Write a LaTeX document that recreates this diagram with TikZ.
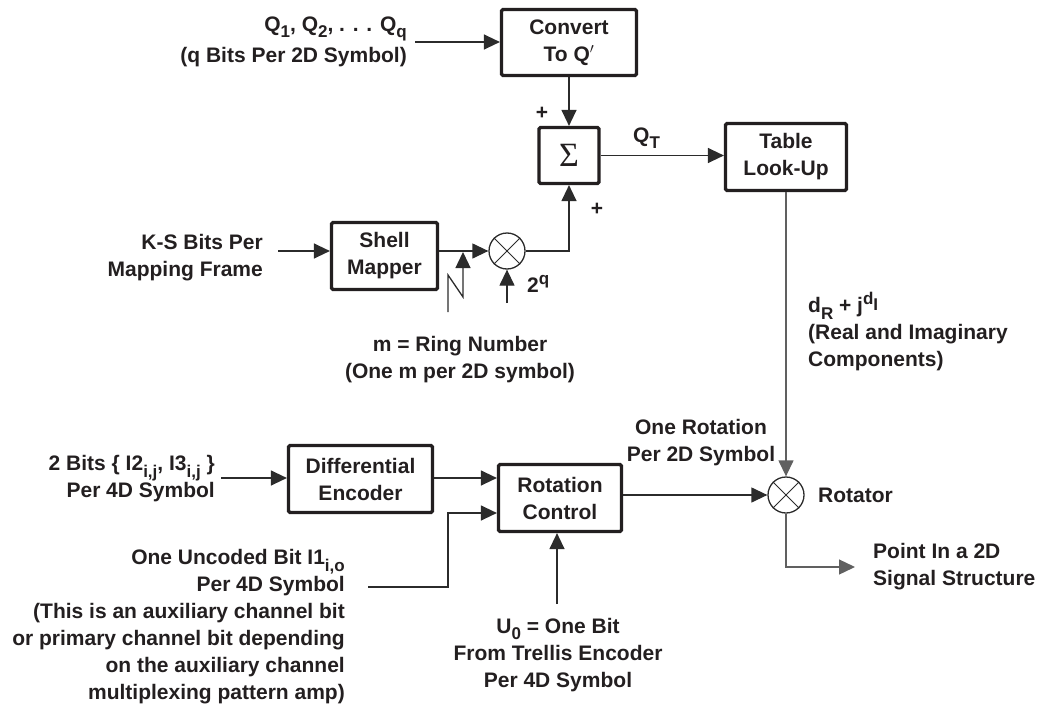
\documentclass[tikz,border=0pt]{standalone}
\usepackage{fontspec}
\setmainfont{Liberation Sans}
\newfontfamily\sigmafont{Liberation Serif}
\usetikzlibrary{arrows.meta,calc}
\definecolor{ink}{HTML}{231F20}
\definecolor{lc}{HTML}{2B2B2B}
\definecolor{lg}{HTML}{606060}
\newcommand{\mysub}[1]{\raisebox{-0.3em}{\fontsize{17}{17}\selectfont #1}}
\newcommand{\mysup}[1]{\raisebox{0.38em}{\fontsize{17}{17}\selectfont #1}}
\tikzset{
  blk/.style={draw=ink, line width=3.2pt, rounded corners=1.5pt, align=center, inner sep=0pt, text=ink},
  txt/.style={inner sep=0pt, text=ink},
  arr/.style={draw=lc, line width=1.3pt, -{Triangle[length=16pt,width=15pt]}},
  ln/.style={draw=lc, line width=1.3pt},
  mixer/.style={circle, draw=lc, line width=1.3pt, minimum size=36pt, inner sep=0pt},
  xline/.style={draw=lc, line width=0.8pt}
}
\begin{document}
\begin{tikzpicture}[x=1pt,y=-1pt,font=\fontsize{21}{27}\selectfont\bfseries]
\useasboundingbox (0,0) rectangle (1039,704);

% boxes
\node[blk, minimum width=135pt, minimum height=66pt] (conv) at (569,42.5) {Convert\\To Q$'$};
\node[blk, minimum width=60pt, minimum height=56pt] (sig) at (569,155.5) {\sigmafont\mdseries\fontsize{34}{34}\selectfont Σ};
\node[blk, minimum width=121pt, minimum height=67pt] (tab) at (786,157) {Table\\Look-Up};
\node[blk, minimum width=106pt, minimum height=67pt] (shell) at (384.5,256) {Shell\\Mapper};
\node[blk, minimum width=144pt, minimum height=67pt] (diff) at (360.5,479) {Differential\\Encoder};
\node[blk, minimum width=123pt, minimum height=67pt] (rot) at (560,498) {Rotation\\Control};
\node[mixer] (mult) at (507,251) {};
\node[mixer] (rotr) at (786,495) {};
\draw[xline] (mult.north west) -- (mult.south east) (mult.north east) -- (mult.south west);
\draw[xline] (rotr.north west) -- (rotr.south east) (rotr.north east) -- (rotr.south west);

% coordinates for free ends
\coordinate (qin) at (415,42);
\coordinate (ksin) at (278,251);
\coordinate (tq) at (507,303);
\coordinate (n1) at (448,312);
\coordinate (n2) at (448,275);
\coordinate (n3) at (463,297);
\coordinate (n4) at (463,252);
\coordinate (din) at (221,478);
\coordinate (uin) at (368,587);
\coordinate (ucor) at (448,587);
\coordinate (uup) at (448,513);
\coordinate (u0) at (557,604);
\coordinate (pc) at (786,567);
\coordinate (pout) at (855,567);

% connectors
\draw[arr] (qin) -- (qin -| conv.west);
\draw[arr] (conv.south) -- (sig.north);
\draw[arr] (sig.east) -- (sig.east -| tab.west);
\draw[arr, draw=lg] (tab.south) -- (rotr.north);
\draw[arr] (ksin) -- (ksin -| shell.west);
\draw[arr] (mult.west -| shell.east) -- (mult.west);
\draw[arr] (mult.east) -| (sig.south);
\draw[arr] (tq) -- (mult.south);
\draw[arr] (n1) -- (n2) -- (n3) -- (n4);
\draw[arr] (din) -- (din -| diff.west);
\draw[arr] (diff.east |- din) -- (rot.west |- din);
\draw[arr] (uin) -- (ucor) -- (uup) -- (uup -| rot.west);
\draw[arr] (u0) -- (u0 |- rot.south);
\draw[arr] (rot.east |- rotr) -- (rotr.west);
\draw[arr, draw=lg] (rotr.south) -- (pc) -- (pout);

% labels
\node[txt, anchor=east, align=right] (qlab) at (407,42) {Q\mysub{1}, Q\mysub{2}, . . . Q\mysub{q}\\[4pt](q Bits Per 2D Symbol)};
\node[txt] (p1) at (542,113) {+};
\node[txt] (p2) at (597,209) {+};
\node[txt, anchor=base west] (qt) at (633,142) {Q\mysub{T}};
\node[txt, anchor=west, align=left] (dr) at (808,332) {d\mysub{R} + j\mysup{d\mysub{I}}\\(Real and Imaginary\\Components)};
\node[txt, anchor=east, align=right] (ks) at (263,258) {K-S Bits Per\\Mapping Frame};
\node[txt, anchor=base west] (tql) at (527,292) {2\mysup{q}};
\node[txt, align=center] (ml) at (460,360) {m = Ring Number\\(One m per 2D symbol)};
\node[txt, anchor=east, align=right] (bl) at (215,479) {2 Bits \{ I2\mysub{i,j}, I3\mysub{i,j} \}\\Per 4D Symbol};
\node[txt, anchor=east, align=right] (ul) at (345,627) {One Uncoded Bit I1\mysub{i,o}\\Per 4D Symbol\\(This is an auxiliary channel bit\\or primary channel bit depending\\on the auxiliary channel\\multiplexing pattern amp)};
\node[txt, align=center] (u0l) at (558,655) {U\mysub{0} = One Bit\\From Trellis Encoder\\Per 4D Symbol};
\node[txt, align=center] (orl) at (701,443) {One Rotation\\Per 2D Symbol};
\node[txt, anchor=west] (rl) at (818,495) {Rotator};
\node[txt, anchor=west, align=left] (pl) at (873,567) {Point In a 2D\\Signal Structure};
\end{tikzpicture}
\end{document}
